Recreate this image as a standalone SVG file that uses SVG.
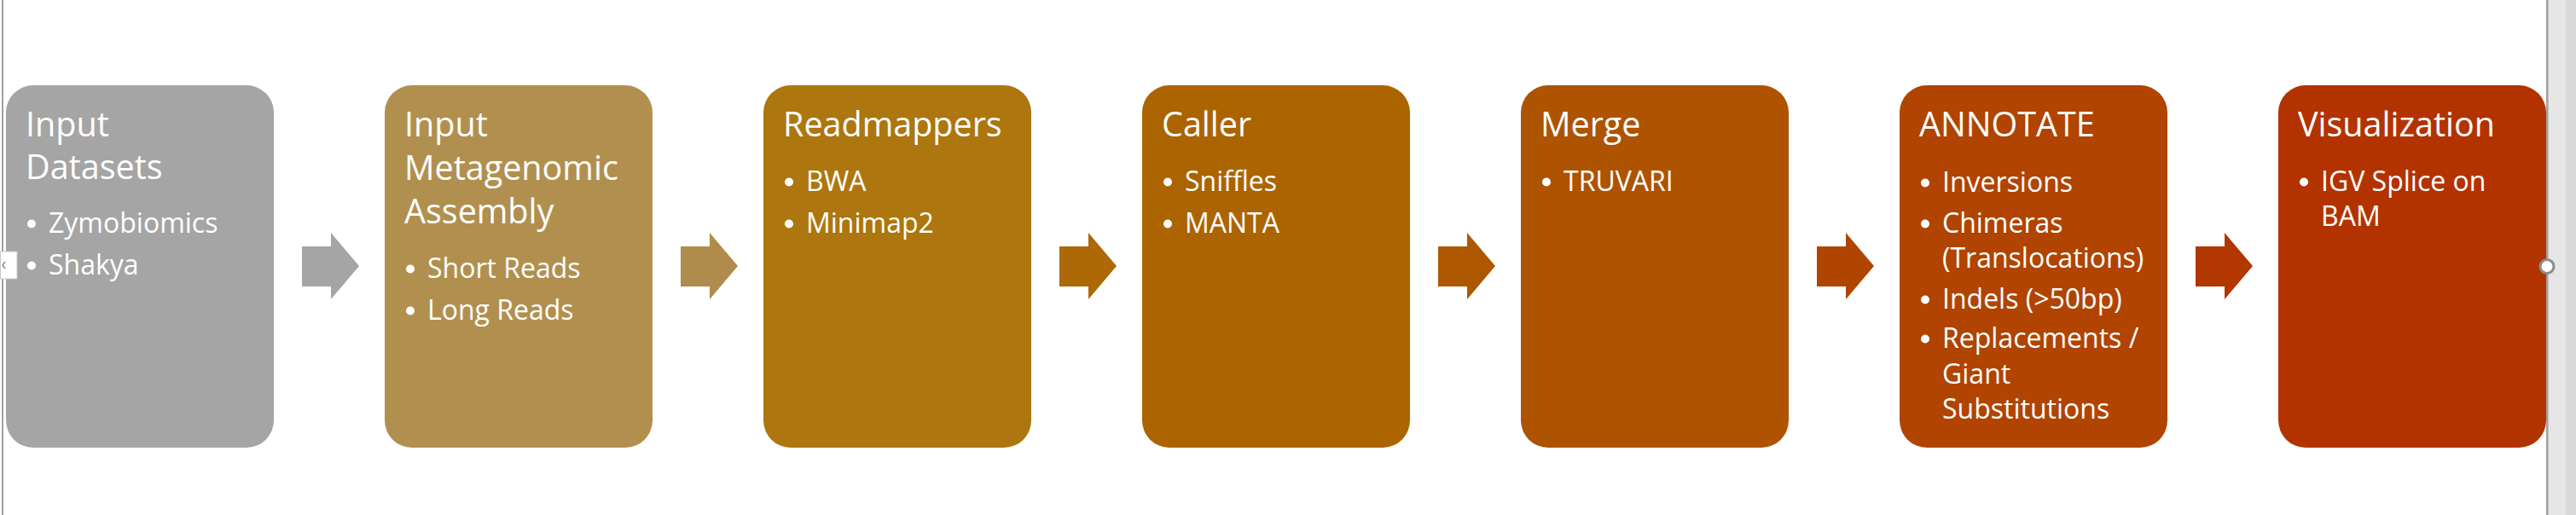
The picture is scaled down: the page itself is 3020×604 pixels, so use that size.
<svg xmlns="http://www.w3.org/2000/svg" width="3020" height="604" viewBox="0 0 3020 604">
<style>
.t{font-family:"Open Sans","Noto Sans",sans-serif;fill:#ffffff;font-size:39.5px}
.b{font-family:"Open Sans","Noto Sans",sans-serif;fill:#ffffff;font-size:32px}
.d{fill:#ffffff}
</style>
<rect x="0" y="0" width="3020" height="604" fill="#ffffff"/>
<!-- frame -->
<rect x="2" y="0" width="2" height="604" fill="#a0a0a0"/>
<rect x="2987" y="0" width="21" height="604" fill="#e6e6e6"/>
<rect x="3008" y="0" width="12" height="604" fill="#dadada"/>
<rect x="2985" y="0" width="2.5" height="604" fill="#a0a0a0"/>

<g id="node1">
<rect x="7" y="100" width="314" height="425" rx="32" fill="#a5a5a5"/>
<text class="t" x="30" y="160">Input</text>
<text class="t" x="30" y="210">Datasets</text>
<circle class="d" cx="37" cy="262.5" r="5"/><text class="b" x="57" y="273">Zymobiomics</text>
<circle class="d" cx="37" cy="311.5" r="5"/><text class="b" x="57" y="322">Shakya</text>
</g>
<g id="node2">
<rect x="451" y="100" width="314" height="425" rx="32" fill="#b1904f"/>
<text class="t" x="474" y="160">Input</text>
<text class="t" x="474" y="211">Metagenomic</text>
<text class="t" x="474" y="262">Assembly</text>
<circle class="d" cx="481" cy="315.5" r="5"/><text class="b" x="501" y="326">Short Reads</text>
<circle class="d" cx="481" cy="364.5" r="5"/><text class="b" x="501" y="375">Long Reads</text>
</g>
<g id="node3">
<rect x="895" y="100" width="314" height="425" rx="32" fill="#ad760f"/>
<text class="t" x="918" y="160">Readmappers</text>
<circle class="d" cx="925" cy="213.5" r="5"/><text class="b" x="945" y="224">BWA</text>
<circle class="d" cx="925" cy="262.5" r="5"/><text class="b" x="945" y="273">Minimap2</text>
</g>
<g id="node4">
<rect x="1339" y="100" width="314" height="425" rx="32" fill="#ac6400"/>
<text class="t" x="1362" y="160">Caller</text>
<circle class="d" cx="1369" cy="213.5" r="5"/><text class="b" x="1389" y="224">Sniffles</text>
<circle class="d" cx="1369" cy="262.5" r="5"/><text class="b" x="1389" y="273">MANTA</text>
</g>
<g id="node5">
<rect x="1783" y="100" width="314" height="425" rx="32" fill="#ae5300"/>
<text class="t" x="1806" y="160">Merge</text>
<circle class="d" cx="1813" cy="213.5" r="5"/><text class="b" x="1833" y="224">TRUVARI</text>
</g>
<g id="node6">
<rect x="2227" y="100" width="314" height="425" rx="32" fill="#b04400"/>
<text class="t" x="2250" y="160">ANNOTATE</text>
<circle class="d" cx="2257" cy="214.5" r="5"/><text class="b" x="2277" y="225">Inversions</text>
<circle class="d" cx="2257" cy="262.5" r="5"/><text class="b" x="2277" y="273">Chimeras</text>
<text class="b" x="2277" y="314">(Translocations)</text>
<circle class="d" cx="2257" cy="351.5" r="5"/><text class="b" x="2277" y="362">Indels (&gt;50bp)</text>
<circle class="d" cx="2257" cy="397.5" r="5"/><text class="b" x="2277" y="408">Replacements /</text>
<text class="b" x="2277" y="450">Giant</text>
<text class="b" x="2277" y="491">Substitutions</text>
</g>
<g id="node7">
<rect x="2671" y="100" width="314" height="425" rx="32" fill="#b33300"/>
<text class="t" x="2694" y="160">Visualization</text>
<circle class="d" cx="2701" cy="213.5" r="5"/><text class="b" x="2721" y="224">IGV Splice on</text>
<text class="b" x="2721" y="265">BAM</text>
</g>

<g id="connectors">
<path d="M354,289 H388 V273 L421,312 L388,351 V336 H354 Z" fill="#a5a5a5"/>
<path d="M798,289 H832 V273 L865,312 L832,351 V336 H798 Z" fill="#af8c4b"/>
<path d="M1242,289 H1276 V273 L1309,312 L1276,351 V336 H1242 Z" fill="#ac6905"/>
<path d="M1686,289 H1720 V273 L1753,312 L1720,351 V336 H1686 Z" fill="#ad5800"/>
<path d="M2130,289 H2164 V273 L2197,312 L2164,351 V336 H2130 Z" fill="#b04500"/>
<path d="M2574,289 H2608 V273 L2641,312 L2608,351 V336 H2574 Z" fill="#b23600"/>
</g>

<!-- selection handles -->
<g id="handles">
<rect x="0.5" y="295" width="19.5" height="32" fill="#ffffff" stroke="#c8c8c8" stroke-width="1"/>
<polyline points="6,307 3,311 6,315" fill="none" stroke="#8a8a8a" stroke-width="1.5"/>
<circle cx="2986" cy="312.5" r="8" fill="#ffffff" stroke="#8c8c8c" stroke-width="3"/>
</g>
</svg>
